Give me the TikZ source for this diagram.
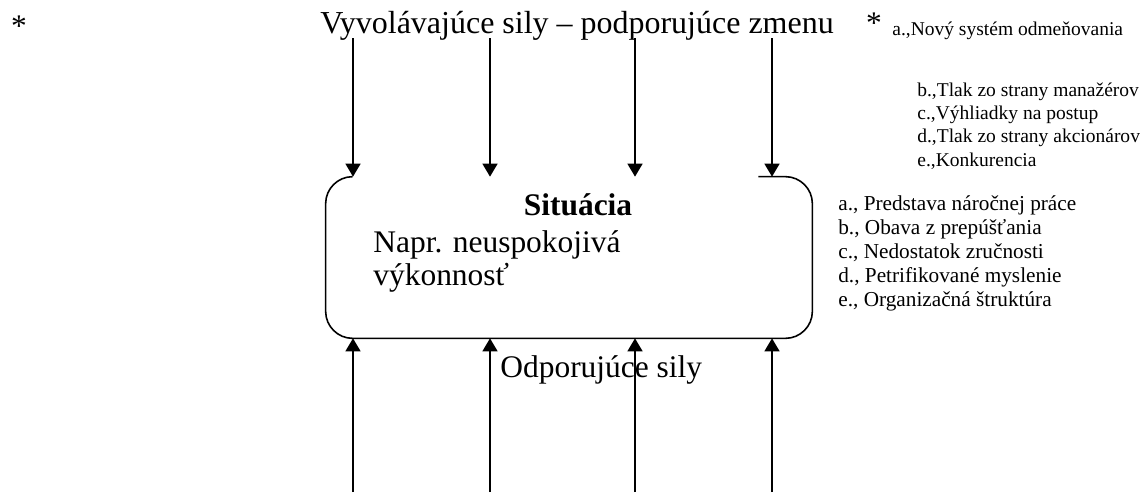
\documentclass[tikz,border=0pt]{standalone}
\usepackage{fontspec}
\setmainfont{Liberation Serif}
\usetikzlibrary{positioning,arrows.meta,calc}
\newcommand{\bigtxt}{\fontsize{17.9}{18.7}\selectfont}
\newcommand{\titletxt}{\fontsize{18.2}{19}\selectfont}
\newcommand{\smalltxt}{\fontsize{11.1}{13.1}\selectfont}
\newcommand{\smalltxtwide}{\fontsize{12.1}{13.6}\selectfont}

\begin{document}
\begin{tikzpicture}[
  every node/.style={inner sep=0pt},
  force/.style={-{Triangle[length=2.6mm,width=3mm]},line width=0.9pt},
  outline/.style={line width=0.9pt,rounded corners=5.4mm},
  big/.style={font=\bigtxt},
  list/.style={font=\smalltxt,align=left},
  listwide/.style={font=\smalltxtwide,align=left}
]
  \useasboundingbox (0,0) rectangle (22.92,-9.84);

  % situation box, left open along the top
  \node[minimum width=9.72cm,minimum height=3.22cm] (sit) at (11.38,-5.15) {};
  \draw[outline] ($(sit.north east)+(-1.08,0)$) -- (sit.north east) -- (sit.south east)
    -- (sit.south west) -- (sit.north west) -- ($(sit.north west)+(0.54,0)$);
  \node[font=\bigtxt\bfseries,anchor=base] (sittitle) at (11.56,-4.30) {Situácia};
  % multi-line nodes: base sits on the last line
  \node[big,anchor=base west,align=left] (example) at (7.46,-5.70)
    {Napr. neuspokojivá\\ výkonnosť};

  % driving forces
  \node[big,anchor=base] (star1) at (0.38,-0.72) {*};
  \node[font=\titletxt,anchor=base west] (driving) at (6.40,-0.66) {Vyvolávajúce sily – podporujúce zmenu};
  \node[big,anchor=base] (star2) at (17.48,-0.66) {*};
  \node[list,anchor=base west] (drivA) at (17.84,-0.70) {a.,Nový systém odmeňovania};
  \node[list,anchor=base west] (drivB) at (18.34,-3.32)
    {b.,Tlak zo strany manažérov\\ c.,Výhliadky na postup\\ d.,Tlak zo strany akcionárov\\ e.,Konkurencia};

  % restraining forces
  \node[big,anchor=base west] (restraining) at (10.00,-7.54) {Odporujúce sily};
  \node[listwide,anchor=base west] (restrList) at (16.76,-6.12)
    {a., Predstava náročnej práce\\ b., Obava z prepúšťania\\ c., Nedostatok zručnosti\\
     d., Petrifikované myslenie\\ e., Organizačná štruktúra};

  \coordinate (in1) at (7.06,-0.76);
  \coordinate (in2) at (9.80,-0.76);
  \coordinate (in3) at (12.70,-0.76);
  \coordinate (in4) at (15.44,-0.76);
  \coordinate (out1) at (7.06,-9.84);
  \coordinate (out2) at (9.80,-9.84);
  \coordinate (out3) at (12.70,-9.84);
  \coordinate (out4) at (15.44,-9.84);
  \draw[force] (in1) -- (in1 |- sit.north);
  \draw[force] (in2) -- (in2 |- sit.north);
  \draw[force] (in3) -- (in3 |- sit.north);
  \draw[force] (in4) -- (in4 |- sit.north);
  \draw[force] (out1) -- (out1 |- sit.south);
  \draw[force] (out2) -- (out2 |- sit.south);
  \draw[force] (out3) -- (out3 |- sit.south);
  \draw[force] (out4) -- (out4 |- sit.south);
\end{tikzpicture}
\end{document}
